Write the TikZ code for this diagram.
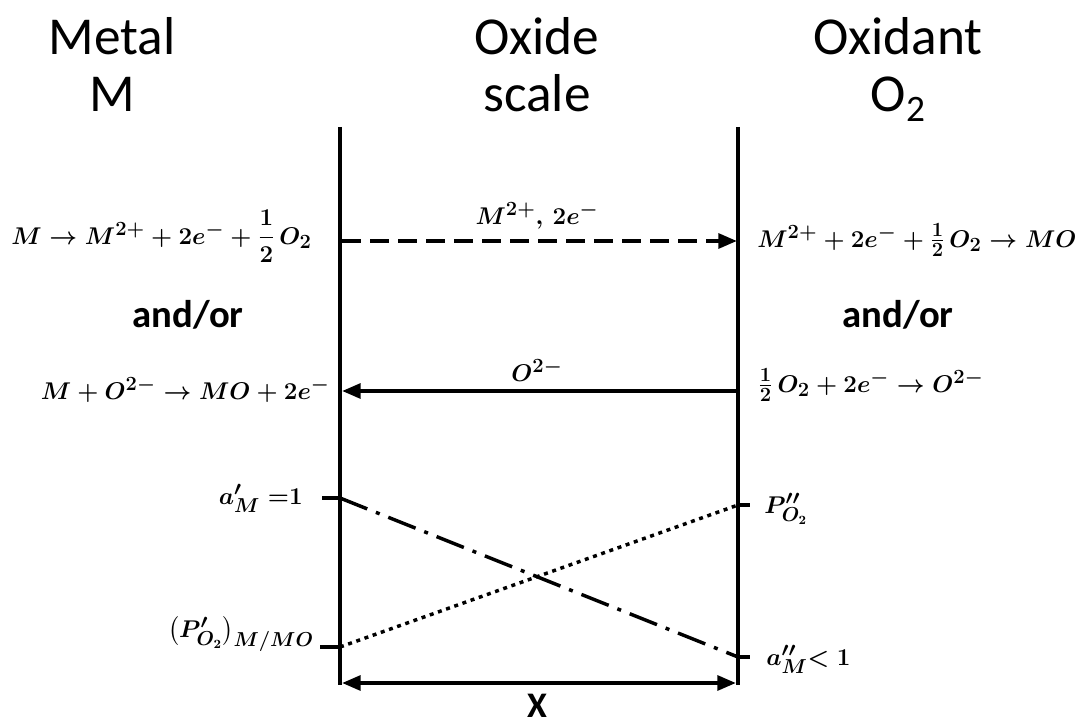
\documentclass[tikz,border=0pt]{standalone}
\usepackage{amsmath}
\usepackage{fontspec}
\setsansfont{Carlito}
\usetikzlibrary{arrows.meta}
\begin{document}
\begin{tikzpicture}[x=0.75pt,y=-0.75pt,
  head/.style={font=\sffamily\fontsize{40}{44}\selectfont, inner sep=0pt, anchor=base},
  andor/.style={font=\sffamily\bfseries\fontsize{29}{34}\selectfont, inner sep=0pt, anchor=base},
  eq/.style={font=\fontsize{19}{22}\selectfont\boldmath, inner sep=0pt, scale=1.05},
  wall/.style={line width=3pt},
  flow/.style={line width=3pt, -{Triangle[length=14pt,width=11pt]}},
  tick/.style={line width=3pt},
  prof/.style={line width=2.6pt}]
\useasboundingbox (0,0) rectangle (1083,724);
% headings
\node[head] (hm1) at (112,55) {Metal};
\node[head] (hm2) at (112,112) {M};
\node[head] (ho1) at (537,55) {Oxide};
\node[head] (ho2) at (537,112) {scale};
\node[head] (hx1) at (898,55) {Oxidant};
\node[head] (hx2) at (898,112) {O\raisebox{-7pt}{\fontsize{28}{30}\selectfont 2}};
% walls
\coordinate (LT) at (340,127);
\coordinate (LB) at (340,685);
\coordinate (RT) at (738,127);
\coordinate (RB) at (738,685);
\draw[wall] (LT) -- (LB);
\draw[wall] (RT) -- (RB);
% flux arrows
\coordinate (a1) at (342,241);
\coordinate (b1) at (737,241);
\draw[flow, dash pattern=on 14pt off 7pt] (a1) -- (b1);
\node[eq, anchor=base] (lab1) at (537,224) {$M^{2+},\,2e^{-}$};
\coordinate (a2) at (737,391);
\coordinate (b2) at (342,391);
\draw[flow] (a2) -- (b2);
\node[eq, anchor=base] (lab2) at (537,381) {$O^{2-}$};
% reactions
\node[eq, anchor=base east] (eqL1) at (312,244) {$M\rightarrow M^{2+}+2e^{-}+\dfrac{1}{2}\,O_2$};
\node[eq, anchor=base west] (eqR1) at (757,247) {$M^{2+}+2e^{-}+\tfrac{1}{2}\,O_2\rightarrow MO$};
\node[andor] (ao1) at (188,327) {and/or};
\node[andor] (ao2) at (898,327) {and/or};
\node[eq, anchor=base east] (eqL2) at (330,399) {$M+O^{2-}\rightarrow MO+2e^{-}$};
\node[eq, anchor=base west] (eqR2) at (758,392) {$\tfrac{1}{2}\,O_2+2e^{-}\rightarrow O^{2-}$};
% profiles
\coordinate (aL) at (340,498);
\coordinate (aR) at (738,657);
\coordinate (pL) at (340,647);
\coordinate (pR) at (738,505);
\draw[prof, dash pattern=on 22pt off 7pt on 3pt off 7pt] (aL) -- (aR);
\draw[prof, dash pattern=on 3pt off 3.5pt] (pL) -- (pR);
\draw[tick] (aL) -- ++(-18,0);
\draw[tick] (pL) -- ++(-20,0);
\draw[tick] (aR) -- ++(12,0);
\draw[tick] (pR) -- ++(12,0);
\node[eq, anchor=base east] (laL) at (303,504) {$a'_M\;{=}\mathbf{1}$};
\node[eq, anchor=base east] (lpL) at (314,637) {$\bigl(P'_{O_2}\bigr)_{M/MO}$};
\node[eq, anchor=base west] (lpR) at (764,513) {$P''_{O_2}$};
\node[eq, anchor=base west] (laR) at (766,665) {$a''_M{<}\;\mathbf{1}$};
% thickness
\coordinate (xL) at (342,683);
\coordinate (xR) at (736,683);
\draw[line width=3pt, {Triangle[length=14pt,width=11pt]}-{Triangle[length=14pt,width=11pt]}] (xL) -- (xR);
\node[font=\sffamily\bfseries\fontsize{27}{30}\selectfont, inner sep=0pt, anchor=base] (X) at (537,717) {X};
\end{tikzpicture}
\end{document}
